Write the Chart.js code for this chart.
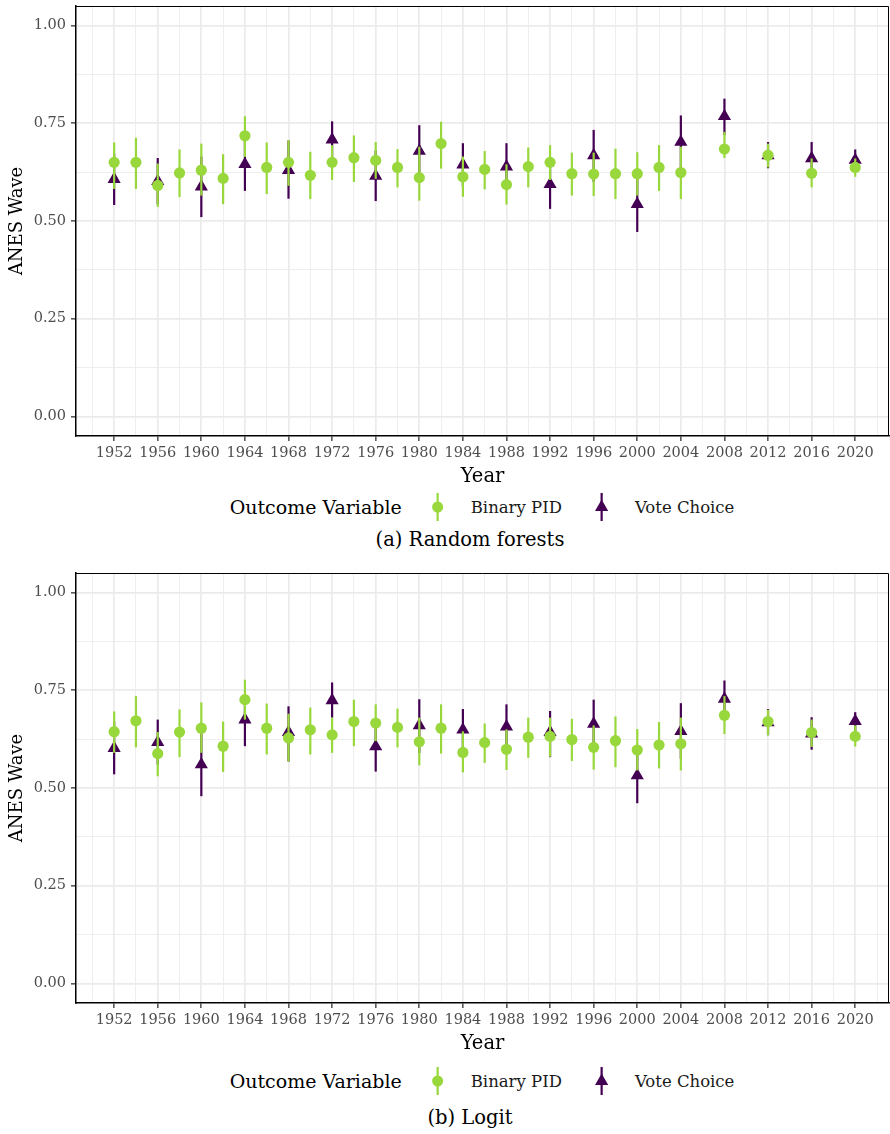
<!DOCTYPE html>
<html>
<head>
<meta charset="utf-8">
<script src="https://cdn.jsdelivr.net/npm/chart.js@4.4.1/dist/chart.umd.min.js"></script>
<style>
  html, body { margin: 0; padding: 0; background: #fff; overflow: hidden; }
  body { width: 890px; height: 1134px; position: relative; font-family: "DejaVu Serif", serif; }
  .wrap { position: absolute; left: 0; width: 920px; height: 490px; }
  .wrap canvas { position: absolute; left: 0; top: 0; }
  .legend { position: absolute; display: flex; align-items: center; transform: translateX(-50%); white-space: nowrap; }
  .legend .title { font-size: 19px; color: #000; margin-right: 28px; }
  .legend .lab { font-size: 16.5px; color: #1a1a1a; }
  .legend svg { display: block; }
  .caption { position: absolute; transform: translateX(-50%); font-size: 19.5px; line-height: 20px; white-space: nowrap; color: #000; }
</style>
</head>
<body>
<div class="wrap" style="top:0px"><canvas id="rf" width="890" height="490"></canvas></div>
<div class="legend" style="left:482px; top:492px;">
  <span class="title">Outcome Variable</span>
  <svg width="16" height="30" style="margin-right:25px"><line x1="8" y1="1" x2="8" y2="29" stroke="#99D83C" stroke-width="2.2"/><circle cx="8" cy="15" r="5.5" fill="#99D83C"/></svg>
  <span class="lab" style="margin-right:32px">Binary PID</span>
  <svg width="16" height="30" style="margin-right:25px"><line x1="8" y1="1" x2="8" y2="29" stroke="#440154" stroke-width="2.2"/><polygon points="8,7.5 14.6,19 1.4,19" fill="#440154"/></svg>
  <span class="lab">Vote Choice</span>
</div>
<div class="caption" style="left:470px; top:530px;">(a) Random forests</div>

<div class="wrap" style="top:566.5px"><canvas id="lg" width="890" height="490"></canvas></div>
<div class="legend" style="left:482px; top:1066px;">
  <span class="title">Outcome Variable</span>
  <svg width="16" height="30" style="margin-right:25px"><line x1="8" y1="1" x2="8" y2="29" stroke="#99D83C" stroke-width="2.2"/><circle cx="8" cy="15" r="5.5" fill="#99D83C"/></svg>
  <span class="lab" style="margin-right:32px">Binary PID</span>
  <svg width="16" height="30" style="margin-right:25px"><line x1="8" y1="1" x2="8" y2="29" stroke="#440154" stroke-width="2.2"/><polygon points="8,7.5 14.6,19 1.4,19" fill="#440154"/></svg>
  <span class="lab">Vote Choice</span>
</div>
<div class="caption" style="left:470px; top:1108px;">(b) Logit</div>

<script>
// データ：図から読み取った推定値（点）と区間（下限・上限）
const pidYears = [1952, 1954, 1956, 1958, 1960, 1962, 1964, 1966, 1968, 1970, 1972, 1974, 1976, 1978, 1980,
                  1982, 1984, 1986, 1988, 1990, 1992, 1994, 1996, 1998, 2000, 2002, 2004, 2008, 2012, 2016, 2020];
const voteYears = [1952, 1956, 1960, 1964, 1968, 1972, 1976, 1980, 1984, 1988, 1992, 1996, 2000, 2004, 2008, 2012, 2016, 2020];

// (a) Random forests
const rfPid   = [0.650, 0.650, 0.591, 0.623, 0.630, 0.609, 0.718, 0.637, 0.650, 0.617, 0.650, 0.662, 0.655, 0.637, 0.611,
                 0.698, 0.613, 0.632, 0.593, 0.639, 0.650, 0.621, 0.620, 0.621, 0.621, 0.637, 0.624, 0.684, 0.668, 0.622, 0.637];
const rfPidLo = [0.582, 0.582, 0.536, 0.561, 0.565, 0.543, 0.664, 0.569, 0.590, 0.556, 0.605, 0.600, 0.608, 0.586, 0.552,
                 0.634, 0.562, 0.581, 0.542, 0.586, 0.605, 0.565, 0.564, 0.556, 0.565, 0.577, 0.556, 0.661, 0.637, 0.586, 0.613];
const rfPidHi = [0.701, 0.713, 0.647, 0.683, 0.698, 0.671, 0.768, 0.701, 0.707, 0.677, 0.694, 0.719, 0.702, 0.684, 0.690,
                 0.754, 0.665, 0.679, 0.645, 0.688, 0.694, 0.675, 0.675, 0.685, 0.676, 0.694, 0.690, 0.728, 0.698, 0.660, 0.660];
const rfVote   = [0.607, 0.602, 0.588, 0.645, 0.630, 0.708, 0.615, 0.679, 0.644, 0.639, 0.594, 0.668, 0.543, 0.702, 0.768, 0.668, 0.660, 0.656];
const rfVoteLo = [0.541, 0.543, 0.510, 0.577, 0.557, 0.660, 0.551, 0.610, 0.590, 0.580, 0.531, 0.600, 0.472, 0.635, 0.720, 0.635, 0.620, 0.630];
const rfVoteHi = [0.673, 0.661, 0.665, 0.713, 0.706, 0.755, 0.680, 0.745, 0.699, 0.699, 0.657, 0.733, 0.614, 0.770, 0.813, 0.702, 0.702, 0.683];

// (b) Logit
const lgPid   = [0.644, 0.672, 0.588, 0.643, 0.653, 0.607, 0.726, 0.653, 0.628, 0.649, 0.636, 0.670, 0.666, 0.655, 0.618,
                 0.653, 0.591, 0.616, 0.599, 0.630, 0.632, 0.624, 0.604, 0.621, 0.597, 0.610, 0.613, 0.686, 0.670, 0.642, 0.632];
const lgPidLo = [0.590, 0.604, 0.530, 0.579, 0.590, 0.541, 0.675, 0.586, 0.568, 0.586, 0.590, 0.607, 0.620, 0.604, 0.558,
                 0.588, 0.540, 0.564, 0.546, 0.577, 0.580, 0.569, 0.547, 0.553, 0.545, 0.550, 0.545, 0.638, 0.635, 0.605, 0.606];
const lgPidHi = [0.696, 0.735, 0.643, 0.701, 0.719, 0.670, 0.777, 0.716, 0.690, 0.706, 0.680, 0.726, 0.714, 0.703, 0.680,
                 0.714, 0.645, 0.665, 0.650, 0.680, 0.680, 0.677, 0.660, 0.683, 0.651, 0.669, 0.680, 0.735, 0.700, 0.675, 0.660];
const lgVote   = [0.602, 0.617, 0.560, 0.675, 0.643, 0.724, 0.606, 0.660, 0.649, 0.657, 0.643, 0.664, 0.532, 0.645, 0.728, 0.668, 0.639, 0.671];
const lgVoteLo = [0.535, 0.560, 0.479, 0.607, 0.568, 0.680, 0.542, 0.590, 0.595, 0.600, 0.579, 0.600, 0.461, 0.575, 0.680, 0.635, 0.598, 0.645];
const lgVoteHi = [0.670, 0.675, 0.640, 0.740, 0.709, 0.770, 0.670, 0.727, 0.702, 0.714, 0.697, 0.726, 0.600, 0.717, 0.775, 0.702, 0.681, 0.694];

// 目盛り（メジャー＋マイナー）
const xTickYears = [1950, 1952, 1954, 1956, 1958, 1960, 1962, 1964, 1966, 1968, 1970, 1972, 1974, 1976, 1978, 1980, 1982, 1984, 1986,
                    1988, 1990, 1992, 1994, 1996, 1998, 2000, 2002, 2004, 2006, 2008, 2010, 2012, 2014, 2016, 2018, 2020, 2022];
const yTickValues = [0, 0.125, 0.25, 0.375, 0.5, 0.625, 0.75, 0.875, 1];

const GREEN = "#99D83C";
const PURPLE = "#440154";
const FONT = "DejaVu Serif";
const PLOT_RIGHT = 889; // パネル右端（px）

const isMajorX = v => (v - 1952) % 4 === 0;
const isMajorY = v => Math.abs(v * 4 - Math.round(v * 4)) < 1e-9;

// エラーバー：各データセットの点を描く直前に線を引く
const errorBars = {
  id: "errorBars",
  beforeDatasetDraw(chart, args) {
    const ds = chart.data.datasets[args.index];
    const { x, y } = chart.scales;
    const ctx = chart.ctx;
    ctx.save();
    ctx.strokeStyle = ds.pointBackgroundColor;
    ctx.lineWidth = 2.2;
    ds.data.forEach((d, i) => {
      const px = x.getPixelForValue(d.x);
      ctx.beginPath();
      ctx.moveTo(px, y.getPixelForValue(ds.lo[i]));
      ctx.lineTo(px, y.getPixelForValue(ds.hi[i]));
      ctx.stroke();
    });
    ctx.restore();
  }
};

// パネル枠（上・右）
const panelBorder = {
  id: "panelBorder",
  afterDraw(chart) {
    const { ctx, chartArea: a } = chart;
    ctx.save();
    ctx.strokeStyle = "#000";
    ctx.lineWidth = 1;
    ctx.beginPath();
    ctx.moveTo(a.left, a.top + 0.5);
    ctx.lineTo(a.right - 0.5, a.top + 0.5);
    ctx.lineTo(a.right - 0.5, a.bottom);
    ctx.stroke();
    ctx.restore();
  }
};

function pts(xs, ys) {
  return xs.map((x, i) => ({ x, y: ys[i] }));
}

function makeChart(id, pid, pidLo, pidHi, vote, voteLo, voteHi) {
  const chart = new Chart(document.getElementById(id), {
    type: "scatter",
    data: {
      datasets: [
        { label: "Binary PID", data: pts(pidYears, pid), lo: pidLo, hi: pidHi,
          pointStyle: "circle", pointRadius: 5.6, pointBackgroundColor: GREEN, pointBorderWidth: 0, borderColor: GREEN },
        { label: "Vote Choice", data: pts(voteYears, vote), lo: voteLo, hi: voteHi,
          pointStyle: "triangle", pointRadius: 7.6, pointBackgroundColor: PURPLE, pointBorderWidth: 0, borderColor: PURPLE }
      ]
    },
    options: {
      responsive: false,
      devicePixelRatio: 1,
      animation: false,
      events: [],
      layout: { autoPadding: false, padding: { top: 6, right: 1, left: 0, bottom: 0 } },
      plugins: { legend: { display: false }, tooltip: { enabled: false } },
      scales: {
        x: {
          type: "linear",
          min: 1948.5, max: 2023.1,
          afterBuildTicks: s => { s.ticks = xTickYears.map(v => ({ value: v })); },
          afterFit: s => { s.height = 54; s.paddingLeft = 0; s.paddingRight = 0; },
          ticks: {
            autoSkip: false, maxRotation: 0, padding: 4,
            font: { family: FONT, size: 14.5 }, color: "#4d4d4d",
            callback: v => isMajorX(v) ? String(v) : ""
          },
          grid: {
            color: "#EBEBEB",
            lineWidth: c => isMajorX(c.tick.value) ? 1.7 : 0.85,
            tickColor: c => isMajorX(c.tick.value) ? "#333" : "rgba(0,0,0,0)",
            tickLength: 5, tickWidth: 1.3
          },
          border: { display: true, color: "#000", width: 1.5 },
          title: { display: true, text: "Year", color: "#000", font: { family: FONT, size: 19.5 }, padding: { top: 0, bottom: 1 } }
        },
        y: {
          type: "linear",
          min: -0.05, max: 1.05,
          afterBuildTicks: s => { s.ticks = yTickValues.map(v => ({ value: v })); },
          afterFit: s => { s.width = 76; s.paddingTop = 0; s.paddingBottom = 0; },
          ticks: {
            padding: 5,
            font: { family: FONT, size: 14.5 }, color: "#4d4d4d",
            callback: v => isMajorY(v) ? v.toFixed(2) : ""
          },
          grid: {
            color: "#EBEBEB",
            lineWidth: c => isMajorY(c.tick.value) ? 1.7 : 0.85,
            tickColor: c => isMajorY(c.tick.value) ? "#333" : "rgba(0,0,0,0)",
            tickLength: 5, tickWidth: 1.3
          },
          border: { display: true, color: "#000", width: 1.5 },
          title: { display: true, text: "ANES Wave", color: "#000", font: { family: FONT, size: 18 }, padding: { top: 7, bottom: 0 } }
        }
      }
    },
    plugins: [errorBars, panelBorder]
  });
  // 右側の余白がずれる分をキャンバス幅で補正（はみ出しは body で切る）
  for (let k = 0; k < 3; k++) {
    const gap = PLOT_RIGHT - chart.chartArea.right;
    if (Math.abs(gap) < 0.5) break;
    chart.resize(Math.round(chart.width + gap), 490);
  }
  return chart;
}

makeChart("rf", rfPid, rfPidLo, rfPidHi, rfVote, rfVoteLo, rfVoteHi);
makeChart("lg", lgPid, lgPidLo, lgPidHi, lgVote, lgVoteLo, lgVoteHi);
</script>
</body>
</html>
